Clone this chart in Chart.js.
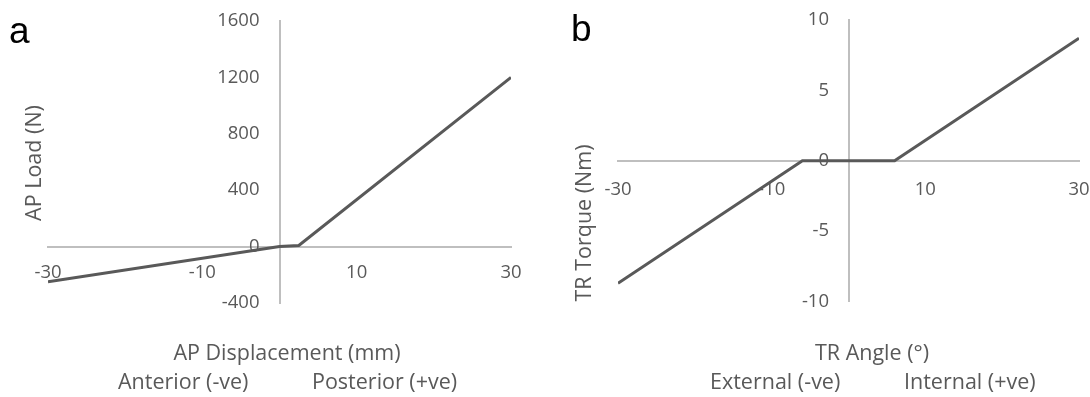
<!DOCTYPE html>
<html>
<head>
<meta charset="utf-8">
<script src="https://cdn.jsdelivr.net/npm/chart.js@4"></script>
<style>
  body { margin: 0; background: #fff; }
  #wrap { position: relative; width: 1090px; height: 397px; overflow: hidden; font-family: "Open Sans", sans-serif; color: #595959; }
  canvas { position: absolute; top: 0; }
  .lbl { position: absolute; white-space: nowrap; font-size: 21.5px; line-height: 1; }
  .panel { position: absolute; font-family: "Liberation Sans", Arial, sans-serif; font-size: 37px; color: #000; line-height: 1; }
  .ytitle { position: absolute; white-space: nowrap; font-size: 21.5px; line-height: 1; transform: translate(-50%, -50%) rotate(-90deg); }
</style>
</head>
<body>
<div id="wrap">
  <canvas id="chartA" width="545" height="397" style="left:0"></canvas>
  <canvas id="chartB" width="545" height="397" style="left:545px"></canvas>

  <div class="panel" style="left:9px; top:12px">a</div>
  <div class="panel" style="left:571px; top:10px">b</div>

  <div class="ytitle" style="left:33px; top:163px">AP Load (N)</div>
  <div class="lbl" style="left:287px; top:341px; transform: translateX(-50%)">AP Displacement (mm)</div>
  <div class="lbl" style="left:118px; top:370px">Anterior (-ve)</div>
  <div class="lbl" style="left:312px; top:370px">Posterior (+ve)</div>

  <div class="ytitle" style="left:583px; top:223px">TR Torque (Nm)</div>
  <div class="lbl" style="left:872px; top:341px; transform: translateX(-50%)">TR Angle (°)</div>
  <div class="lbl" style="left:710px; top:370px">External (-ve)</div>
  <div class="lbl" style="left:904px; top:370px">Internal (+ve)</div>
</div>
<script>
// panel a: AP displacement (mm) vs AP load (N)
const apDisplacement = [-30, 0, 2.5, 30];
const apLoad = [-250, 0, 8, 1200];
const apXTicks = [-30, -10, 10, 30];

// panel b: TR angle (deg) vs TR torque (Nm)
const trAngle = [-30, -6, 6, 30];
const trTorque = [-8.7, 0, 0, 8.7];
const trXTicks = [-30, -10, 10, 30];

const lineColor = '#595959';
const axisColor = '#bfbfbf';

// tick labels sit next to the crossing axes, like Excel; drawn under the line
const crossLabels = {
    id: 'crossLabels',
    beforeDatasetsDraw(chart, args, opts) {
        const { ctx, scales: { x, y } } = chart;
        const x0 = x.getPixelForValue(0);
        const y0 = y.getPixelForValue(0);
        ctx.save();
        ctx.fillStyle = lineColor;
        ctx.font = '18.5px "Open Sans", sans-serif';
        ctx.textAlign = 'center';
        ctx.textBaseline = 'middle';
        x.ticks.forEach(t => ctx.fillText(String(t.value), x.getPixelForValue(t.value), y0 + opts.xPad));
        ctx.textAlign = 'right';
        y.ticks.forEach(t => ctx.fillText(String(t.value), x0 - opts.yPad, y.getPixelForValue(t.value)));
        ctx.restore();
    }
};

function makeChart(canvasId, xs, ys, xTicks, yMin, yMax, yStep, padding, xPad, yPad) {
    const ctx = document.getElementById(canvasId).getContext('2d');
    return new Chart(ctx, {
        type: 'scatter',
        data: {
            datasets: [{
                data: xs.map((x, i) => ({ x: x, y: ys[i] })),
                showLine: true,
                borderColor: lineColor,
                borderWidth: 3,
                pointRadius: 0,
                fill: false,
                tension: 0
            }]
        },
        options: {
            responsive: false,
            animation: false,
            layout: { padding: padding },
            plugins: {
                legend: { display: false },
                tooltip: { enabled: false },
                crossLabels: { xPad: xPad, yPad: yPad }
            },
            scales: {
                x: {
                    type: 'linear',
                    min: -30,
                    max: 30,
                    position: { y: 0 },
                    afterBuildTicks: scale => { scale.ticks = xTicks.map(v => ({ value: v })); },
                    grid: { display: false },
                    border: { display: true, color: axisColor, width: 2 },
                    ticks: { display: false }
                },
                y: {
                    type: 'linear',
                    min: yMin,
                    max: yMax,
                    position: { x: 0 },
                    grid: { display: false },
                    border: { display: true, color: axisColor, width: 2 },
                    ticks: { display: false, stepSize: yStep }
                }
            }
        },
        plugins: [crossLabels]
    });
}

makeChart('chartA', apDisplacement, apLoad, apXTicks, -400, 1600, 400,
    { left: 48, right: 34, top: 21, bottom: 94 }, 26.5, 20);
makeChart('chartB', trAngle, trTorque, trXTicks, -10, 10, 5,
    { left: 73, right: 11, top: 20, bottom: 95.5 }, 29, 19.5);
</script>
</body>
</html>
